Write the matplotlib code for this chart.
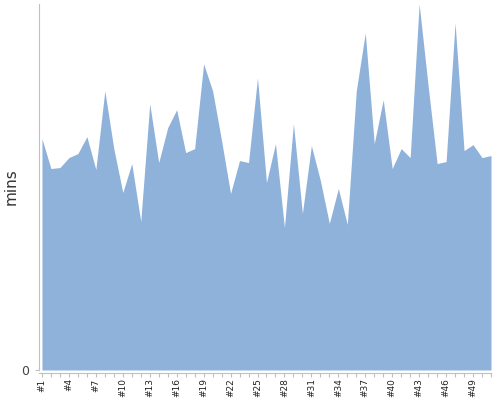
import numpy as np
import matplotlib
matplotlib.use("Agg")
import matplotlib.pyplot as plt

# run labels and durations (arbitrary units)
runs = [f"#{i}" for i in range(1, 52)]
mins = [23.2, 20.2, 20.3, 21.3, 21.7, 23.4, 20.1, 28.0, 22.2, 17.8,
        20.7, 14.9, 26.7, 20.8, 24.3, 26.1, 21.8, 22.2, 30.7, 28.0,
        23.0, 17.7, 21.0, 20.8, 29.3, 18.8, 22.7, 14.3, 24.7, 15.7,
        22.5, 19.0, 14.7, 18.2, 14.6, 28.0, 33.8, 22.7, 27.1, 20.2,
        22.2, 21.3, 36.7, 28.5, 20.7, 20.9, 34.8, 22.0, 22.6, 21.3,
        21.5]

x = np.arange(1, len(mins) + 1)

fig = plt.figure(figsize=(5, 4), dpi=100)
ax = fig.add_axes([0.078, 0.075, 0.904, 0.915])

ax.fill_between(x, mins, 0, color="#8FB2DB", linewidth=0)

ax.set_xlim(1 - 0.33, len(mins))
ax.set_ylim(0, 36.7)

for s in ["top", "right"]:
    ax.spines[s].set_visible(False)
ax.spines["left"].set_color("#c0c0c0")
ax.spines["bottom"].set_color("#c0c0c0")
ax.spines["bottom"].set_position(("outward", 2))
ax.tick_params(axis="x", length=3, color="#c0c0c0", pad=1,
               labelrotation=90, labelsize=6.5, labelcolor="#222222")
ax.tick_params(axis="y", length=3, color="#c0c0c0", pad=4,
               labelsize=9, labelcolor="#444444")

ax.set_xticks(x)
ax.set_xticklabels([r if (i % 3 == 0) else "" for i, r in enumerate(runs)])
ax.set_yticks([0])
ax.set_yticklabels(["0"])
ax.set_ylabel("mins", fontsize=11, color="#333333")
ax.yaxis.set_label_coords(-0.045, 0.5)

fig.savefig("out.png", dpi=100)
